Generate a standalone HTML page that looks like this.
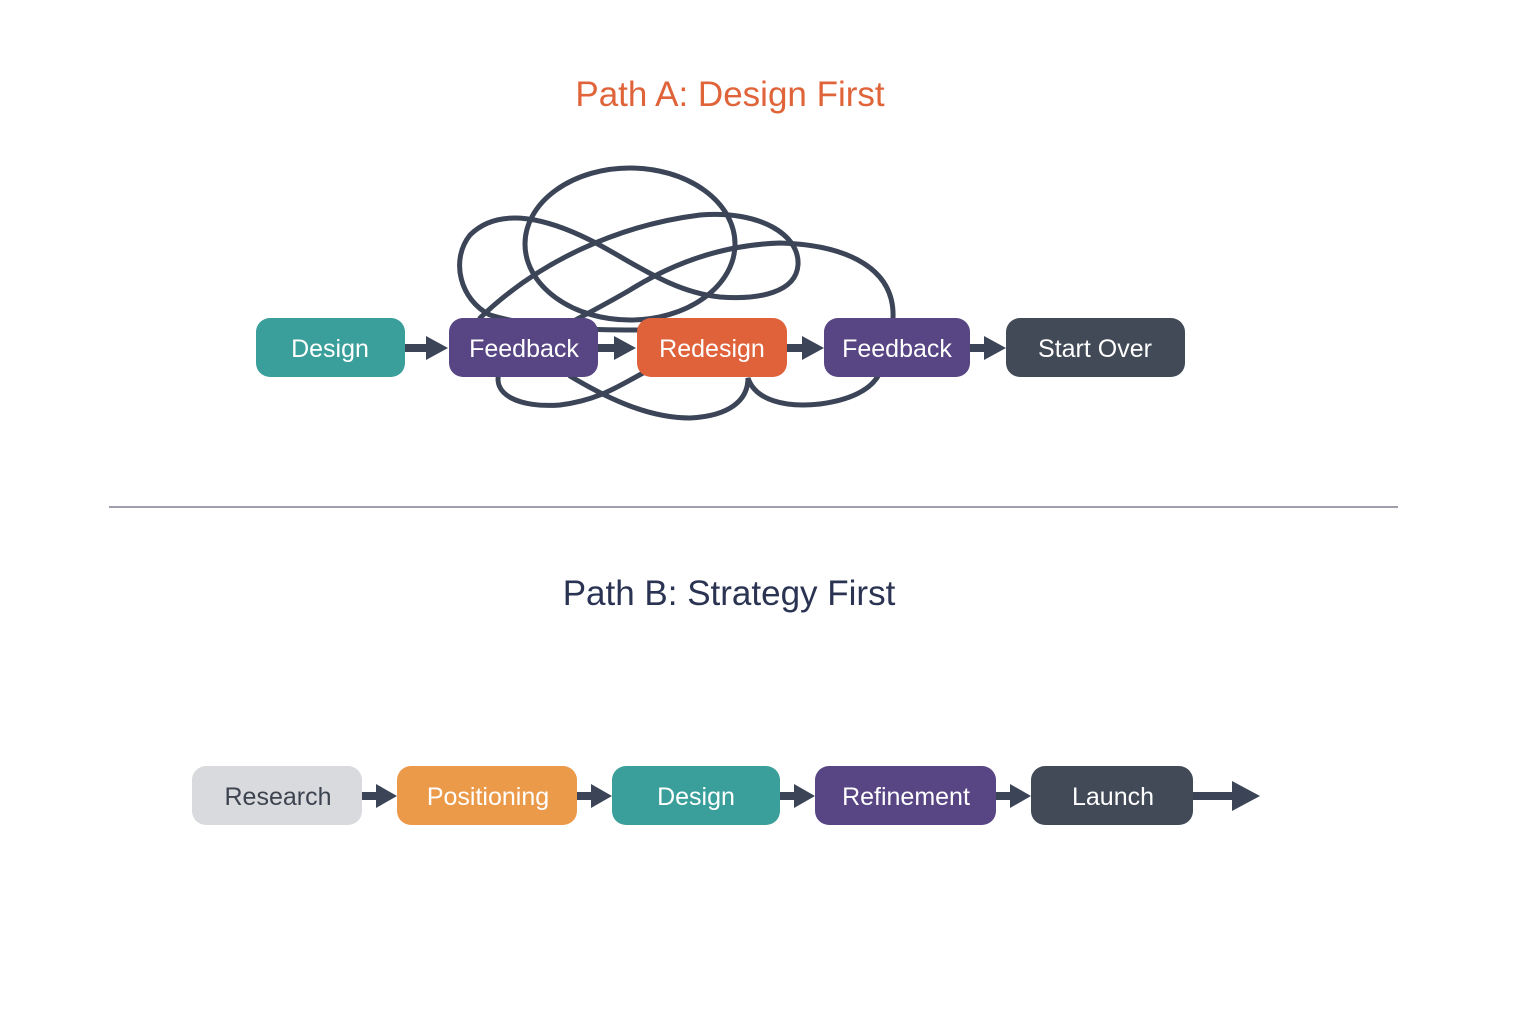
<!DOCTYPE html>
<html><head><meta charset="utf-8"><style>
html,body{margin:0;padding:0;background:#fff;}
svg{display:block}
text{font-family:"Liberation Sans",sans-serif;}
</style></head><body>
<svg width="1536" height="1024" viewBox="0 0 1536 1024" xmlns="http://www.w3.org/2000/svg">
<text x="730" y="106" text-anchor="middle" font-size="35" fill="#e0643a">Path A: Design First</text>
<g fill="none" stroke="#3b4557" stroke-width="5" stroke-linecap="round">
<ellipse cx="630" cy="244" rx="105" ry="76"/>
<path d="M480,318 C540,260 620,225 700,215 C760,210 800,235 798,265 C796,292 760,300 720,297 C670,292 630,260 590,240 C550,220 500,205 470,235 C450,260 460,300 490,315 C540,330 600,330 640,330"/>
<path d="M893,318 C895,270 850,245 780,243 C720,245 670,265 630,290 C570,325 520,345 500,370 C490,395 520,408 560,405 C600,400 620,385 645,372"/>
<path d="M570,376 C610,400 650,418 690,418 C730,416 748,400 748,378 C755,400 785,408 820,404 C850,400 870,390 878,376"/>
</g>
<g fill="#3b4557">
<rect x="405" y="344" width="25" height="8"/><polygon points="426,336 448,348 426,360"/>
<rect x="598" y="344" width="20" height="8"/><polygon points="614,336 636,348 614,360"/>
<rect x="787" y="344" width="18" height="8"/><polygon points="802,336 824,348 802,360"/>
<rect x="970" y="344" width="18" height="8"/><polygon points="984,336 1006,348 984,360"/>
</g>
<g font-size="25" text-anchor="middle" fill="#fff">
<rect x="256" y="318" width="149" height="59" rx="14" fill="#3a9f9a"/><text x="330" y="357">Design</text>
<rect x="449" y="318" width="149" height="59" rx="14" fill="#584584"/><text x="524" y="357">Feedback</text>
<rect x="637" y="318" width="150" height="59" rx="14" fill="#e0623a"/><text x="712" y="357">Redesign</text>
<rect x="824" y="318" width="146" height="59" rx="14" fill="#584584"/><text x="897" y="357">Feedback</text>
<rect x="1006" y="318" width="179" height="59" rx="14" fill="#414a56"/><text x="1095" y="357">Start Over</text>
</g>
<line x1="109" y1="507" x2="1398" y2="507" stroke="#a0a0ac" stroke-width="2"/>
<text x="729" y="605" text-anchor="middle" font-size="35" fill="#2a3352">Path B: Strategy First</text>
<g fill="#3b4557">
<rect x="362" y="792" width="18" height="8"/><polygon points="376,784 397,796 376,808"/>
<rect x="577" y="792" width="18" height="8"/><polygon points="591,784 612,796 591,808"/>
<rect x="780" y="792" width="18" height="8"/><polygon points="794,784 815,796 794,808"/>
<rect x="996" y="792" width="18" height="8"/><polygon points="1010,784 1031,796 1010,808"/>
<rect x="1193" y="792" width="42" height="8"/><polygon points="1232,781 1260,796 1232,811"/>
</g>
<g font-size="25" text-anchor="middle" fill="#fff">
<rect x="192" y="766" width="170" height="59" rx="14" fill="#d8dadd"/><text x="278" y="805" fill="#3d4450">Research</text>
<rect x="397" y="766" width="180" height="59" rx="14" fill="#eb9a4a"/><text x="488" y="805">Positioning</text>
<rect x="612" y="766" width="168" height="59" rx="14" fill="#3a9f9a"/><text x="696" y="805">Design</text>
<rect x="815" y="766" width="181" height="59" rx="14" fill="#584584"/><text x="906" y="805">Refinement</text>
<rect x="1031" y="766" width="162" height="59" rx="14" fill="#414a56"/><text x="1113" y="805">Launch</text>
</g>
</svg>
</body></html>
